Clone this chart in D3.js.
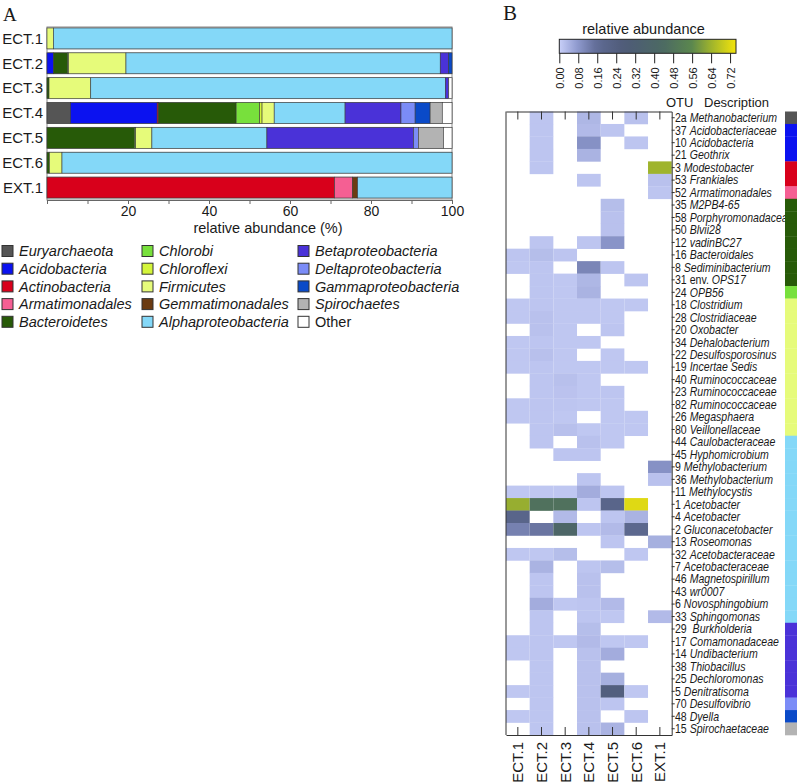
<!DOCTYPE html>
<html>
<head>
<meta charset="utf-8">
<script src="https://cdn.jsdelivr.net/npm/d3@7"></script>
<style>
  body { margin: 0; background: #fff; }
  text { font-family: "Liberation Sans", Arial, sans-serif; fill: #1a1a1a; }
</style>
</head>
<body>
<svg id="chart" width="798" height="783"></svg>
<script>
// ---- panel A data ----
const samples = ["ECT.1", "ECT.2", "ECT.3", "ECT.4", "ECT.5", "ECT.6", "EXT.1"];
const phyla = ["Euryarchaeota", "Acidobacteria", "Actinobacteria", "Armatimonadales", "Bacteroidetes",
  "Chlorobi", "Chloroflexi", "Firmicutes", "Gemmatimonadales", "Alphaproteobacteria",
  "Betaproteobacteria", "Deltaproteobacteria", "Gammaproteobacteria", "Spirochaetes", "Other"];
const phylumColors = ["#555555", "#0b12f0", "#d8001b", "#f55f93", "#275a08",
  "#78e03c", "#d4f53a", "#e6fb7a", "#6b3b12", "#84d8f8",
  "#4a32d8", "#7b8cf7", "#0a4ac8", "#b3b3b3", "#ffffff"];
// percent per phylum (same order as phyla), one row per sample
const abundance = [
  [0, 0, 0, 0, 0, 0, 0, 1.6, 0, 98.4, 0, 0, 0, 0, 0],
  [0, 1.6, 0, 0, 3.5, 0.2, 0, 14.2, 0, 77.6, 2.1, 0, 0.8, 0, 0],
  [0, 0, 0, 0, 0.5, 0, 0, 10.3, 0, 87.6, 0.8, 0, 0, 0, 0.8],
  [5.8, 21.4, 0.3, 0, 19.2, 5.8, 0.6, 3.0, 0, 17.5, 13.8, 3.5, 3.7, 3.0, 2.4],
  [0, 0, 0, 0, 21.6, 0.3, 0, 4.0, 0, 28.4, 36.2, 1.2, 0, 6.2, 2.1],
  [0, 0, 0, 0, 0.6, 0, 0, 3.1, 0, 96.3, 0, 0, 0, 0, 0],
  [0, 0, 71.0, 4.4, 0, 0, 0, 0, 1.3, 23.3, 0, 0, 0, 0, 0]
];

// ---- panel B data ----
const otuIds = ["2a", "37", "10", "21", "3", "53", "52", "35", "58", "50", "12", "16", "8", "31 env.", "24",
  "18", "28", "20", "34", "22", "19", "40", "23", "82", "26", "80", "44", "45", "9", "36", "11",
  "1", "4", "2", "13", "32", "7", "46", "43", "6", "33", "29 ", "17", "14", "38", "25", "5", "70", "48", "15"];
const otuNames = ["Methanobacterium", "Acidobacteriaceae", "Acidobacteria", "Geothrix", "Modestobacter",
  "Frankiales", "Armatimonadales", "M2PB4-65", "Porphyromonadaceae", "Blvii28", "vadinBC27",
  "Bacteroidales", "Sediminibacterium", "OPS17", "OPB56", "Clostridium", "Clostridiaceae", "Oxobacter",
  "Dehalobacterium", "Desulfosporosinus", "Incertae Sedis", "Ruminococcaceae", "Ruminococcaceae",
  "Ruminococcaceae", "Megasphaera", "Veillonellaceae", "Caulobacteraceae", "Hyphomicrobium",
  "Methylobacterium", "Methylobacterium", "Methylocystis", "Acetobacter", "Acetobacter",
  "Gluconacetobacter", "Roseomonas", "Acetobacteraceae", "Acetobacteraceae", "Magnetospirillum",
  "wr0007", "Novosphingobium", "Sphingomonas", "Burkholderia", "Comamonadaceae", "Undibacterium",
  "Thiobacillus", "Dechloromonas", "Denitratisoma", "Desulfovibrio", "Dyella", "Spirochaetaceae"];
const otuGroup = ["Euryarchaeota", "Acidobacteria", "Acidobacteria", "Acidobacteria", "Actinobacteria",
  "Actinobacteria", "Armatimonadales", "Bacteroidetes", "Bacteroidetes", "Bacteroidetes", "Bacteroidetes",
  "Bacteroidetes", "Bacteroidetes", "Bacteroidetes", "Chlorobi", "Firmicutes", "Firmicutes", "Firmicutes",
  "Firmicutes", "Firmicutes", "Firmicutes", "Firmicutes", "Firmicutes", "Firmicutes", "Firmicutes",
  "Firmicutes", "Alphaproteobacteria", "Alphaproteobacteria", "Alphaproteobacteria", "Alphaproteobacteria",
  "Alphaproteobacteria", "Alphaproteobacteria", "Alphaproteobacteria", "Alphaproteobacteria",
  "Alphaproteobacteria", "Alphaproteobacteria", "Alphaproteobacteria", "Alphaproteobacteria",
  "Alphaproteobacteria", "Alphaproteobacteria", "Alphaproteobacteria", "Betaproteobacteria",
  "Betaproteobacteria", "Betaproteobacteria", "Betaproteobacteria", "Betaproteobacteria",
  "Betaproteobacteria", "Deltaproteobacteria", "Gammaproteobacteria", "Spirochaetes"];
// relative abundance per OTU (rows) and sample (columns ECT.1..EXT.1); 0 = blank cell
const heatValues = [
  [0, .015, 0, .035, 0, .02, 0],
  [0, .015, 0, .03, .015, 0, 0],
  [0, .015, 0, .09, 0, .015, 0],
  [0, .015, 0, .04, 0, 0, 0],
  [0, .015, 0, 0, 0, 0, .64],
  [0, 0, 0, .015, 0, 0, .02],
  [0, 0, 0, 0, 0, 0, .015],
  [0, 0, 0, 0, .025, 0, 0],
  [0, 0, 0, 0, .02, 0, 0],
  [0, 0, 0, 0, .02, 0, 0],
  [0, .015, 0, .015, .085, 0, 0],
  [.015, .025, .015, 0, 0, 0, 0],
  [.012, .015, 0, .11, .015, 0, 0],
  [0, .015, .012, .035, 0, .015, 0],
  [0, .015, .012, .04, 0, 0, 0],
  [.012, .015, .012, .012, .012, .012, 0],
  [.012, .02, .012, .012, .012, 0, 0],
  [0, .02, .012, 0, .015, 0, 0],
  [.012, .015, .012, .012, 0, 0, 0],
  [.012, .022, .012, 0, .012, 0, 0],
  [.012, .015, .012, .012, .012, .012, 0],
  [0, .015, .022, .012, 0, 0, 0],
  [0, .015, .018, .012, .015, 0, 0],
  [.012, .015, .015, .012, .012, 0, 0],
  [.012, .015, .012, 0, .012, .012, 0],
  [0, .015, .022, .012, .012, .012, 0],
  [0, .015, 0, .02, .012, 0, 0],
  [0, 0, .015, .015, 0, 0, 0],
  [0, 0, 0, 0, 0, 0, .09],
  [0, 0, 0, .015, 0, 0, .02],
  [.012, .012, .012, .05, .015, 0, 0],
  [.63, .47, .47, .015, .2, .72, 0],
  [.2, 0, .03, 0, .015, .04, 0],
  [.12, .14, .4, .015, .03, .18, 0],
  [0, 0, 0, 0, .015, 0, .045],
  [.012, .012, .025, 0, 0, .012, 0],
  [0, .04, 0, .015, .025, 0, 0],
  [0, .015, 0, .02, 0, 0, 0],
  [0, .015, 0, .02, 0, 0, 0],
  [0, .05, .012, .015, .03, 0, 0],
  [0, .015, 0, .015, .012, 0, .03],
  [0, .015, 0, .025, 0, 0, 0],
  [.012, .015, .012, .03, .012, .012, 0],
  [.012, .015, 0, .02, .05, 0, 0],
  [0, .015, 0, .02, 0, 0, 0],
  [0, .015, 0, .02, .045, 0, 0],
  [.012, .015, 0, .02, .25, .012, 0],
  [0, .015, 0, .02, .015, 0, 0],
  [.012, .015, 0, .02, 0, .015, 0],
  [0, .015, 0, .02, .04, 0, 0]
];
const colorTicks = [0, 0.08, 0.16, 0.24, 0.32, 0.40, 0.48, 0.56, 0.64, 0.72];
const heatStops = [0, 0.08, 0.16, 0.28, 0.44, 0.56, 0.64, 0.745];
const heatColors = ["#c8cff8", "#8c97cc", "#5f6a93", "#4e5b77", "#4c6a62", "#5b874e", "#9fb42c", "#f3e40c"];

const svg = d3.select("#chart");
const color = d3.scaleOrdinal().domain(phyla).range(phylumColors);

// ================= panel A =================
const x = d3.scaleLinear().domain([0, 100]).range([47, 452]);
const y = d3.scaleBand().domain(samples).range([26.5, 199.5]).paddingInner(0.16).paddingOuter(0.06);

const gA = svg.append("g");
gA.append("text").attr("x", 3).attr("y", 21).text("A")
  .style("font-family", "'Liberation Serif', serif").style("font-size", "19px");

gA.append("rect").attr("x", x(0)).attr("y", 27).attr("width", x(100) - x(0)).attr("height", 173)
  .attr("fill", "none").attr("stroke", "#8a8a8a");

const table = samples.map((s, i) => {
  const o = { sample: s };
  phyla.forEach((p, j) => o[p] = abundance[i][j]);
  return o;
});
const series = d3.stack().keys(phyla)(table);

gA.selectAll(".barbg").data(samples).join("rect")
  .attr("x", x(0)).attr("y", d => y(d)).attr("width", x(100) - x(0)).attr("height", y.bandwidth())
  .attr("fill", "#fff").attr("stroke", "#999");

series.forEach(ser => {
  gA.append("g").selectAll("rect")
    .data(ser.filter(d => d[1] - d[0] > 0))
    .join("rect")
    .attr("x", d => x(d[0]))
    .attr("y", d => y(d.data.sample))
    .attr("width", d => x(d[1]) - x(d[0]))
    .attr("height", y.bandwidth())
    .attr("fill", color(ser.key))
    .attr("stroke", "#3a3a3a").attr("stroke-width", 0.6);
});

gA.selectAll(".rowlab").data(samples).join("text")
  .attr("x", 43).attr("y", d => y(d) + y.bandwidth() / 2).attr("dy", "0.35em")
  .attr("text-anchor", "end").style("font-size", "15px").text(d => d);

const axA = gA.append("g").attr("transform", "translate(0,200)")
  .call(d3.axisBottom(x).tickValues(d3.range(0, 101, 10)).tickSizeInner(4).tickSizeOuter(0).tickPadding(2)
    .tickFormat(d => d > 0 && d % 20 === 0 ? d : ""));
axA.select(".domain").attr("stroke", "#666");
axA.selectAll(".tick line").attr("stroke", "#666");
axA.selectAll("text").style("font-size", "14px").attr("fill", "#222")
  .style("font-family", "'Liberation Sans', Arial, sans-serif");

gA.append("text").attr("x", 268).attr("y", 233).attr("text-anchor", "middle")
  .style("font-size", "14.5px").text("relative abundance (%)");

// legend
const leg = gA.append("g").selectAll("g").data(phyla).join("g")
  .attr("transform", (d, i) => `translate(${[2, 142, 298][Math.floor(i / 5)]},${251 + (i % 5) * 17.7})`);
leg.append("rect").attr("x", 0).attr("y", -5.5).attr("width", 11).attr("height", 11)
  .attr("fill", d => color(d)).attr("stroke", "#333");
leg.append("text").attr("x", 17).attr("dy", "0.36em").style("font-size", "14.5px")
  .style("font-style", d => d === "Other" ? "normal" : "italic").text(d => d);

// ================= panel B =================
svg.append("text").attr("x", 503).attr("y", 20).text("B")
  .style("font-family", "'Liberation Serif', serif").style("font-size", "21px");

const xH = d3.scaleBand().domain(samples).range([506, 671.7]);
const yH = d3.scaleBand().domain(d3.range(otuNames.length)).range([111.5, 735]);
const heat = d3.scaleLinear().domain(heatStops).range(heatColors).clamp(true);

const cells = [];
heatValues.forEach((row, i) => row.forEach((v, j) => { if (v > 0) cells.push({ i, s: samples[j], v }); }));
svg.append("g").selectAll("rect").data(cells).join("rect")
  .attr("x", d => xH(d.s)).attr("y", d => yH(d.i))
  .attr("width", xH.bandwidth()).attr("height", yH.bandwidth() + 0.3)
  .attr("fill", d => heat(d.v));

// frame & axes
svg.append("line").attr("x1", 506).attr("x2", 506).attr("y1", 111.5).attr("y2", 735).attr("stroke", "#333");
svg.append("g").attr("transform", "translate(0,111.5)")
  .call(d3.axisTop(xH).tickSizeInner(-8).tickSizeOuter(0).tickFormat(""))
  .selectAll("path,line").attr("stroke", "#333");
const axBot = svg.append("g").attr("transform", "translate(0,735)")
  .call(d3.axisBottom(xH).tickSizeInner(-8).tickSizeOuter(0));
axBot.selectAll("path,line").attr("stroke", "#333");
axBot.selectAll("text")
  .attr("transform", "rotate(-90)").attr("x", -7).attr("y", 0).attr("dy", "0.36em")
  .style("text-anchor", "end").style("font-size", "15px").attr("fill", "#1a1a1a")
  .style("font-family", "'Liberation Sans', Arial, sans-serif");
svg.append("g").attr("transform", "translate(671.7,0)")
  .call(d3.axisRight(yH).tickSizeInner(3).tickSizeOuter(0).tickFormat(""))
  .selectAll("path,line").attr("stroke", "#333");

// row labels (condensed, like the original narrow face)
const lab = svg.append("g").attr("transform", "translate(675,0) scale(0.88,1)")
  .selectAll("text").data(otuNames).join("text")
  .attr("x", 0).attr("y", (d, i) => yH(i) + yH.bandwidth() / 2).attr("dy", "0.36em")
  .style("font-size", "12px").style("white-space", "pre");
lab.append("tspan").text((d, i) => otuIds[i] + " ");
lab.append("tspan").style("font-style", "italic").text(d => d);

svg.append("text").attr("x", 666).attr("y", 107).style("font-size", "13px").text("OTU");
svg.append("text").attr("x", 704).attr("y", 107).style("font-size", "13px").text("Description");

// phylum side bar
svg.append("g").selectAll("rect").data(otuGroup).join("rect")
  .attr("x", 785).attr("width", 12)
  .attr("y", (d, i) => yH(i)).attr("height", yH.step() + 0.3)
  .attr("fill", d => color(d));

// colour bar
const cb = d3.scaleLinear().domain([0, 0.745]).range([559.3, 736]);
const grad = svg.append("defs").append("linearGradient").attr("id", "cbgrad");
grad.selectAll("stop").data(d3.range(0, 1.0001, 0.05)).join("stop")
  .attr("offset", d => d).attr("stop-color", d => heat(d * 0.745));
svg.append("rect").attr("x", cb(0)).attr("y", 39.3).attr("width", cb(0.745) - cb(0)).attr("height", 14)
  .attr("fill", "url(#cbgrad)").attr("stroke", "#222");
const axCb = svg.append("g").attr("transform", "translate(0,53.3)")
  .call(d3.axisBottom(cb).tickValues(colorTicks).tickSizeInner(10).tickSizeOuter(0).tickFormat(d3.format(".2f")));
axCb.select(".domain").remove();
axCb.selectAll("line").attr("stroke", "#222");
axCb.selectAll("text")
  .attr("transform", "rotate(-90)").attr("x", -14).attr("y", 0).attr("dy", "0.36em")
  .style("text-anchor", "end").style("font-size", "11px").attr("fill", "#1a1a1a")
  .style("font-family", "'Liberation Sans', Arial, sans-serif");
svg.append("text").attr("x", 643.5).attr("y", 34).attr("text-anchor", "middle")
  .style("font-size", "14.5px").text("relative abundance");
</script>
</body>
</html>
